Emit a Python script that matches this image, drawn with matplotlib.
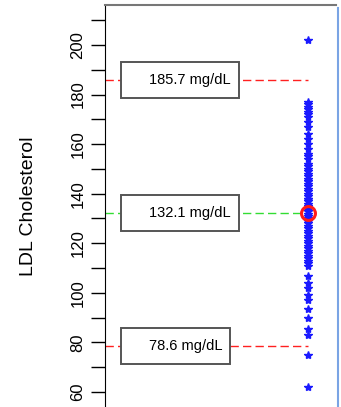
import matplotlib
matplotlib.use("Agg")
import matplotlib.pyplot as plt
from matplotlib.patches import Rectangle
from matplotlib.lines import Line2D

# LDL cholesterol values (mg/dL)
ldl = [202, 177, 176, 175, 174, 173, 172, 171, 169, 167, 164, 162, 160, 158,
       156, 155, 154, 152, 151, 150, 149, 148, 147, 146, 145, 145, 144, 143,
       142, 141, 140, 139, 138, 138, 137, 136, 135, 134, 133, 133, 132, 131,
       130, 130, 129, 128, 127, 126, 125, 124, 123, 122, 121, 120, 119, 118,
       117, 116, 115, 114, 113, 112, 111, 107, 104, 102, 99, 97, 93.5, 90,
       85.5, 83, 75, 62]

# mean and mean +/- 2 sd
ref_values = [185.7, 132.1, 78.6]
ref_colors = ["#ff2020", "#33dd33", "#ff2020"]
ref_labels = ["185.7 mg/dL", "132.1 mg/dL", "78.6 mg/dL"]

plt.rcParams["font.family"] = ["Liberation Sans", "DejaVu Sans"]

fig = plt.figure(figsize=(3.41, 4.07), dpi=100)
ax = fig.add_axes([105 / 341, 0.0, 231 / 341, 1 - 5 / 407])
ax.set_xlim(-1, 1.275)
ax.set_ylim(53.97, 216.1)

# points
ax.plot([1] * len(ldl), ldl, linestyle="none", marker="*", markersize=6,
        color="#1a1aff", zorder=3)
ax.plot([1], [ref_values[1]], marker="o", markersize=10, markerfacecolor="none",
        markeredgecolor="#ff1a1a", markeredgewidth=2.2, zorder=4)

# reference lines and labelled boxes
fig.canvas.draw()
renderer = fig.canvas.get_renderer()
box_h = 14.5
box_left = -0.842
for v, c, lab in zip(ref_values, ref_colors, ref_labels):
    ax.plot([-1, 1], [v, v], color=c, linewidth=1, dashes=(6, 3), zorder=1)
    txt = ax.text(-0.567, v, lab, ha="left", va="center", fontsize=10.5, zorder=6)
    bb = txt.get_window_extent(renderer)
    x_right = ax.transData.inverted().transform((bb.x1 + 8, 0))[0]
    ax.add_patch(Rectangle((box_left, v - box_h / 2), x_right - box_left, box_h,
                           facecolor="white", edgecolor="#555555",
                           linewidth=1.4, zorder=5))

# axis
ax.set_yticks(range(60, 211, 10))
ax.set_yticklabels([str(t) if t % 20 == 0 else "" for t in range(60, 211, 10)],
                   rotation=90, va="center", fontsize=12)
ax.tick_params(axis="y", length=10, pad=4, width=1)
ax.set_xticks([])
ax.set_ylabel("LDL Cholesterol", fontsize=14, labelpad=24)

ax.spines["left"].set_color("black")
ax.spines["top"].set_color("#777777")
ax.spines["top"].set_linewidth(1.5)
ax.spines["right"].set_visible(False)
ax.spines["bottom"].set_visible(False)

fig.add_artist(Line2D([338 / 341, 338 / 341], [0, 1 - 8 / 407],
                      color="#7aa4e4", linewidth=1.5))

fig.savefig("out.png", dpi=100)
